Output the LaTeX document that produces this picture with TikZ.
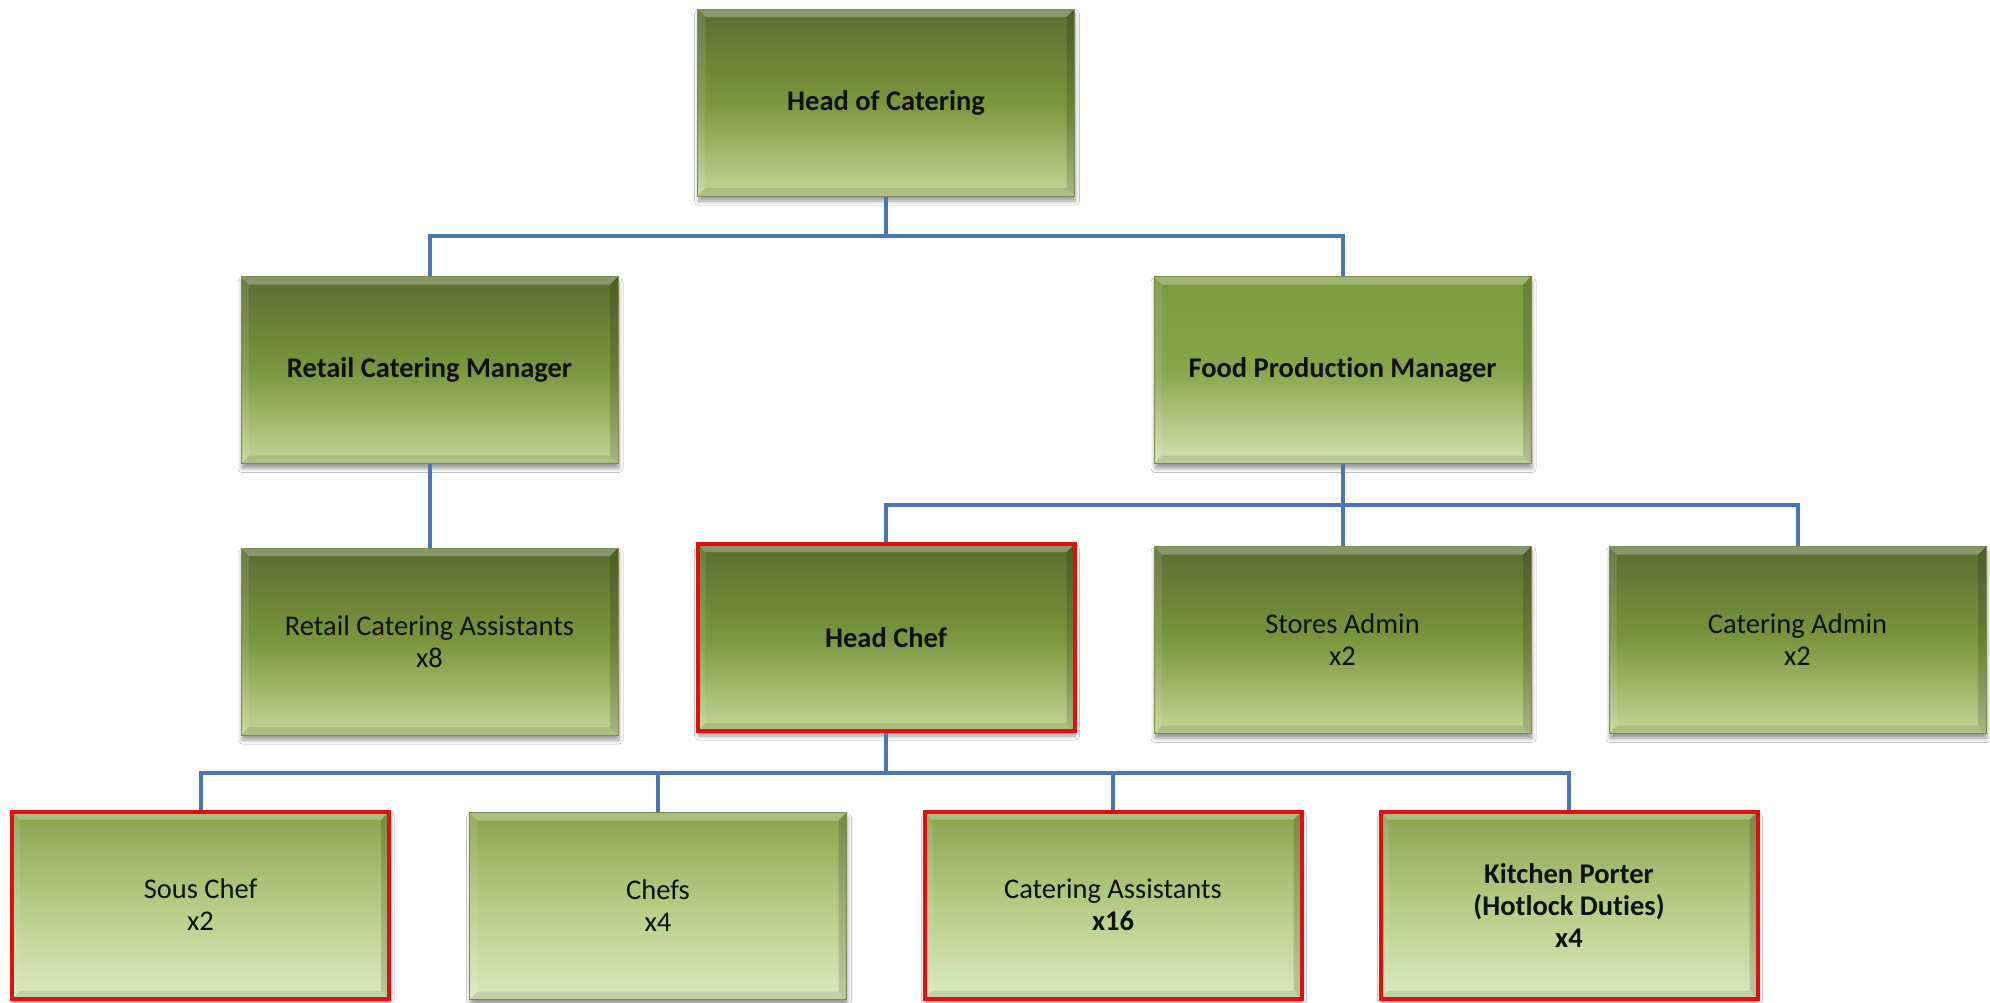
\documentclass[tikz,border=0pt]{standalone}
\usepackage{fontspec}
\setmainfont[Ligatures=NoCommon]{Carlito}
\usetikzlibrary{shadows.blur}
\definecolor{dkA}{HTML}{5A6E2F}
\definecolor{dkB}{HTML}{7A963D}
\definecolor{dkC}{HTML}{C3D796}
\definecolor{fpA}{HTML}{7B9A3E}
\definecolor{fpB}{HTML}{88A54A}
\definecolor{fpC}{HTML}{D3E2B2}
\definecolor{ltA}{HTML}{88A34F}
\definecolor{ltB}{HTML}{B6CC85}
\definecolor{ltC}{HTML}{DDE9BF}
\definecolor{boxedge}{HTML}{7A8A52}
\definecolor{redline}{HTML}{E01010}
\definecolor{linkblue}{HTML}{4A76B2}
\definecolor{txt}{HTML}{111111}
\newcommand\bevelpic{%
  \fill[white,opacity=0.28] (path picture bounding box.north west) -- (path picture bounding box.north east)
    -- ([xshift=-8pt,yshift=-8pt]path picture bounding box.north east) -- ([xshift=8pt,yshift=-8pt]path picture bounding box.north west) -- cycle;
  \fill[white,opacity=0.10] (path picture bounding box.north west) -- ([xshift=8pt,yshift=-8pt]path picture bounding box.north west)
    -- ([xshift=8pt,yshift=8pt]path picture bounding box.south west) -- (path picture bounding box.south west) -- cycle;
  \fill[black,opacity=0.15] (path picture bounding box.north east) -- ([xshift=-8pt,yshift=-8pt]path picture bounding box.north east)
    -- ([xshift=-8pt,yshift=8pt]path picture bounding box.south east) -- (path picture bounding box.south east) -- cycle;
  \fill[black,opacity=0.10] (path picture bounding box.south west) -- ([xshift=8pt,yshift=8pt]path picture bounding box.south west)
    -- ([xshift=-8pt,yshift=8pt]path picture bounding box.south east) -- (path picture bounding box.south east) -- cycle;
}
\tikzset{
  box/.style={rectangle, minimum width=377pt, minimum height=187pt, inner sep=0pt, align=center,
    text=txt, font=\fontsize{28.5pt}{32pt}\selectfont, draw=boxedge, line width=1pt,
    blur shadow={shadow xshift=1pt, shadow yshift=-5pt, shadow blur radius=4pt, shadow opacity=40},
    path picture={\bevelpic}},
  darkfill/.style={top color=dkA, bottom color=dkC, middle color=dkB},
  fpfill/.style={top color=fpA, bottom color=fpC, middle color=fpB},
  lightfill/.style={top color=ltA, bottom color=ltC, middle color=ltB},
  redbox/.style={draw=redline, line width=4pt},
  link/.style={draw=linkblue, line width=4pt}
}
\begin{document}
\begin{tikzpicture}[x=1pt,y=-1pt]
\useasboundingbox[fill=white] (0,0) rectangle (1990,1002);
% nodes
\node[box,darkfill] (hoc) at (886,102.5) {\textbf{Head of Catering}};
\node[box,darkfill] (rcm) at (429.5,370) {\textbf{Retail Catering Manager}};
\node[box,fpfill] (fpm) at (1342.5,370) {\textbf{Food Production Manager}};
\node[box,darkfill] (rca) at (429.5,641.5) {Retail Catering Assistants\\x8};
\node[box,darkfill,redbox] (hc) at (886,637.5) {\textbf{Head Chef}};
\node[box,darkfill] (sa) at (1342.5,640) {Stores Admin\\x2};
\node[box,darkfill] (ca) at (1797.5,640) {Catering Admin\\x2};
\node[box,lightfill,redbox] (sc) at (200.5,905) {Sous Chef\\x2};
\node[box,lightfill] (ch) at (658,906) {Chefs\\x4};
\node[box,lightfill,redbox] (cas) at (1113,905) {Catering Assistants\\\textbf{x16}};
\node[box,lightfill,redbox] (kp) at (1569,905) {\textbf{Kitchen Porter}\\\textbf{(Hotlock Duties)}\\\textbf{x4}};
% junctions
\coordinate (j1) at (886,236);
\coordinate (j2) at (1342.5,505);
\coordinate (j3) at (886,773);
% connectors
\draw[link] (hoc.south) -- (j1);
\draw[link] (j1) -| (rcm.north);
\draw[link] (j1) -| (fpm.north);
\draw[link] (rcm.south) -- (rca.north);
\draw[link] (fpm.south) -- (j2);
\draw[link] (j2) -| (hc.north);
\draw[link] (j2) -- (sa.north);
\draw[link] (j2) -| (ca.north);
\draw[link] (hc.south) -- (j3);
\draw[link] (j3) -| (sc.north);
\draw[link] (j3) -| (ch.north);
\draw[link] (j3) -| (cas.north);
\draw[link] (j3) -| (kp.north);
\end{tikzpicture}
\end{document}
